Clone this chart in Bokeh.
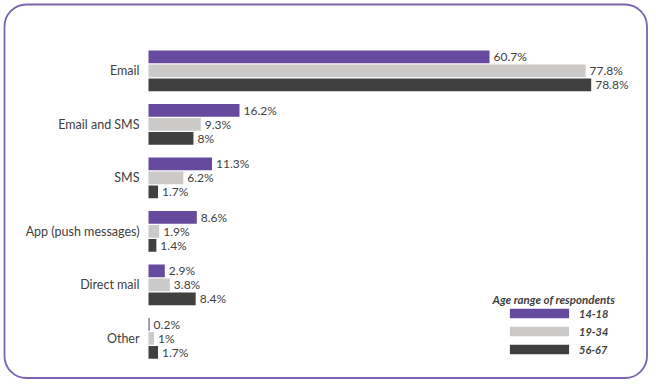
from bokeh.plotting import figure
from bokeh.models import ColumnDataSource, Range1d, Legend, LegendItem, Label, BoxAnnotation
from bokeh.transform import dodge
from bokeh.core.properties import value
from bokeh.embed import file_html
from bokeh.resources import INLINE

# ---- data ----
categories = ["Email", "Email and SMS", "SMS", "App (push messages)", "Direct mail", "Other"]
series_names = ["14-18", "19-34", "56-67"]
v_14_18 = [60.7, 16.2, 11.3, 8.6, 2.9, 0.2]
v_19_34 = [77.8, 9.3, 6.2, 1.9, 3.8, 1.0]
v_56_67 = [78.8, 8.0, 1.7, 1.4, 8.4, 1.7]
series_values = [v_14_18, v_19_34, v_56_67]
colors = ["#654A9E", "#CBCAC9", "#404041"]

# ---- layout constants ----
W, H = 648, 379
PX_PER_PCT = 5.618
ZERO_PX = 148
PX_PER_GROUP = 53.5
FIRST_GROUP_PX = 70.3
BAR_H = 12.7 / PX_PER_GROUP
OFFSETS = [14 / PX_PER_GROUP, 0.0, -14 / PX_PER_GROUP]
TEXT_COLOR = "#404040"
FONT = value("Lato")

y_end = FIRST_GROUP_PX / PX_PER_GROUP
p = figure(width=W, height=H, output_backend="svg", toolbar_location=None,
           x_range=Range1d(-ZERO_PX / PX_PER_PCT, (W - ZERO_PX) / PX_PER_PCT),
           y_range=Range1d(y_end - H / PX_PER_GROUP, y_end),
           x_axis_location=None, y_axis_location=None,
           min_border=0, min_border_left=0, min_border_right=0,
           min_border_top=0, min_border_bottom=0)
p.grid.visible = False
p.outline_line_color = None
p.background_fill_color = "white"
p.border_fill_color = "white"

ypos = [-i for i in range(len(categories))]

# category labels
cat_src = ColumnDataSource(dict(x=[0] * len(categories), y=ypos, t=categories))
p.text(x="x", y="y", text="t", source=cat_src, x_offset=-9, text_align="right",
       text_baseline="middle", text_font=FONT, text_font_size="12.5px", text_color=TEXT_COLOR)

items = []
for name, vals, col, off in zip(series_names, series_values, colors, OFFSETS):
    src = ColumnDataSource(dict(y=ypos, v=vals, lab=[f"{v:g}%" for v in vals]))
    r = p.hbar(y=dodge("y", off), left=0, right="v", height=BAR_H, source=src,
               fill_color=col, line_color=None)
    p.text(x="v", y=dodge("y", off), text="lab", source=src, x_offset=4,
           text_baseline="middle", text_font=FONT, text_font_size="12px",
           text_color=TEXT_COLOR)
    items.append(LegendItem(label=name, renderers=[r]))

legend = Legend(items=items, location=(502, H - 355.6), glyph_width=74, glyph_height=12,
                label_height=12, label_width=30, spacing=5, padding=0, margin=0,
                label_standoff=3, background_fill_alpha=0, border_line_color=None,
                label_text_font="Lato", label_text_font_style="bold italic",
                label_text_font_size="11px", label_text_color=TEXT_COLOR)
p.add_layout(legend)

p.add_layout(Label(x=492, y=H - 299, x_units="screen", y_units="screen",
                   text="Age range of respondents", text_baseline="middle",
                   text_font="Lato", text_font_style="bold italic",
                   text_font_size="11.5px", text_color=TEXT_COLOR))

p.add_layout(BoxAnnotation(left=4, right=W - 1.5, top=H - 4, bottom=1.5,
                           left_units="screen", right_units="screen",
                           top_units="screen", bottom_units="screen",
                           fill_alpha=0, line_color="#7A63B0", line_alpha=1.0,
                           line_width=1.8, border_radius=22))

open("out.html", "w").write(file_html(p, INLINE))
